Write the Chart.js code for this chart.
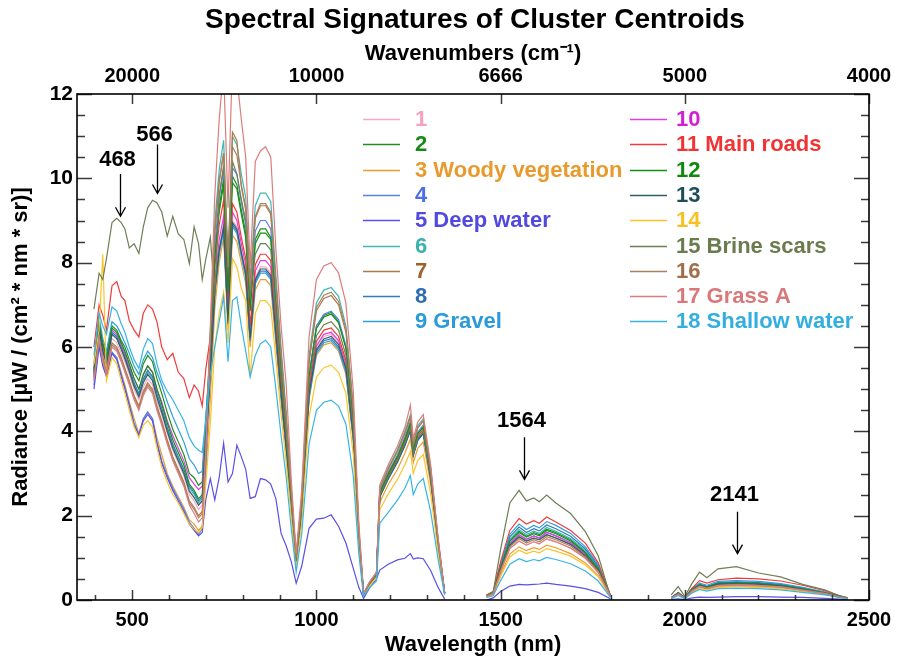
<!DOCTYPE html>
<html>
<head>
<meta charset="utf-8">
<title>Spectral Signatures of Cluster Centroids</title>
<script src="https://cdn.jsdelivr.net/npm/chart.js@4.4.1/dist/chart.umd.min.js"></script>
<style>
  html, body { margin: 0; padding: 0; background: #ffffff; }
  canvas { display: block; }
</style>
</head>
<body>
<canvas id="chart" width="900" height="661"></canvas>
<script>
// Band centre wavelengths (nm). 1400 and 1880 are the atmospheric water gaps (no data).
const wavelengths = [396,410,420,430,445,458,470,480,492,505,518,530,542,555,567,580,595,610,625,640,655,668,680,690,700,
  712,724,736,748,760,772,784,796,808,820,834,848,862,876,890,904,918,
  932,945,960,980,1000,1020,1040,1060,1080,1100,1115,1128,
  1145,1163,1172,1195,1220,1240,1255,1263,1275,1290,1310,1330,1348,
  1400,
  1462,1480,1500,1525,1550,1570,1590,1605,1625,1650,1690,1730,1765,1798,
  1880,
  1963,1982,2000,2020,2040,2060,2090,2140,2200,2260,2320,2380,2420,2442];

// Mean radiance of each cluster, µW / (cm² nm sr)
const c1 = [5.3,6.3,5.8,5.5,6.2,6.1,5.85,5.65,5.35,5.0,4.75,5.05,5.25,5.1,4.7,4.4,3.95,3.55,3.25,2.95,2.5,2.35,2.15,2.25,3.6,
  5.3,7.35,8.35,8.95,6.6,9.0,8.85,8.3,7.8,6.25,7.65,7.9,7.9,7.75,6.3,4.9,3.65,
  2.2,0.88,2.1,4.9,6.0,6.25,6.3,6.1,5.55,3.9,1.45,0.13,
  0.4,0.6,2.5,2.9,3.3,3.7,4.1,3.5,3.85,4.0,2.9,1.35,0.15,
  null,
  0.09,0.15,0.67,1.22,1.4,1.3,1.38,1.33,1.45,1.38,1.23,0.99,0.65,0.09,
  null,
  0.04,0.14,0.04,0.22,0.32,0.27,0.34,0.36,0.34,0.31,0.23,0.15,0.07,0.04];
const c2 = [5.5,6.6,6.1,5.8,6.5,6.4,6.15,6.0,5.7,5.4,5.2,5.6,5.8,5.65,5.25,4.9,4.45,4.05,3.75,3.45,3.0,2.9,2.72,2.8,4.3,
  6.0,8.2,9.3,10.0,7.4,10.05,9.85,9.25,8.7,6.95,8.55,8.8,8.8,8.6,7.0,5.45,4.05,
  2.4,0.95,2.25,5.3,6.5,6.75,6.82,6.6,6.0,4.2,1.55,0.14,
  0.41,0.62,2.55,3.0,3.4,3.8,4.2,3.57,3.95,4.1,3.0,1.4,0.16,
  null,
  0.1,0.17,0.77,1.41,1.63,1.51,1.6,1.55,1.68,1.6,1.43,1.14,0.76,0.1,
  null,
  0.05,0.16,0.05,0.24,0.35,0.3,0.38,0.4,0.38,0.34,0.26,0.17,0.08,0.04];
const c3 = [5.2,6.2,5.6,5.3,5.85,5.75,5.4,5.1,4.7,4.3,3.95,4.3,4.45,4.3,3.85,3.45,3.0,2.7,2.45,2.2,1.9,1.8,1.65,1.75,3.0,
  4.8,6.9,8.0,8.6,6.4,8.65,8.5,8.0,7.5,6.0,7.35,7.6,7.6,7.45,6.05,4.7,3.5,
  2.15,0.85,2.0,4.75,5.8,6.05,6.1,5.9,5.35,3.8,1.4,0.12,
  0.38,0.56,2.32,2.74,3.1,3.48,3.82,3.26,3.6,3.75,2.74,1.28,0.15,
  null,
  0.08,0.13,0.6,1.09,1.26,1.17,1.24,1.2,1.3,1.24,1.1,0.88,0.58,0.08,
  null,
  0.04,0.13,0.04,0.2,0.29,0.25,0.31,0.33,0.31,0.28,0.21,0.14,0.07,0.03];
const c4 = [5.1,6.1,5.6,5.37,5.88,5.75,5.35,5.05,4.65,4.2,3.92,4.3,4.46,4.3,3.75,3.3,2.95,2.65,2.4,2.15,1.85,1.7,1.55,1.7,3.2,
  5.8,8.4,9.55,10.2,7.55,10.25,10.1,9.45,8.9,7.1,8.75,9.0,9.0,8.8,7.2,5.6,4.15,
  2.4,0.95,2.25,5.35,6.5,6.78,6.85,6.65,6.03,4.25,1.57,0.14,
  0.42,0.62,2.57,3.03,3.44,3.86,4.23,3.61,3.98,4.15,3.03,1.41,0.17,
  null,
  0.1,0.16,0.74,1.34,1.55,1.44,1.52,1.47,1.6,1.52,1.36,1.09,0.72,0.1,
  null,
  0.04,0.14,0.04,0.22,0.32,0.27,0.34,0.36,0.34,0.31,0.23,0.15,0.07,0.04];
const c5 = [5.0,6.0,5.55,5.3,5.85,5.7,5.3,5.0,4.6,4.15,3.9,4.25,4.4,4.25,3.7,3.25,2.9,2.6,2.35,2.1,1.8,1.65,1.52,1.6,2.4,
  2.88,2.37,2.9,3.72,2.8,3.0,3.67,3.4,3.1,2.41,2.45,2.88,2.85,2.75,2.4,1.58,1.28,
  0.9,0.4,0.8,1.7,1.92,1.94,2.02,1.75,1.35,0.75,0.3,0.04,
  0.3,0.5,0.71,0.85,0.95,0.99,1.1,0.97,1.0,0.98,0.7,0.3,0.02,
  null,
  0.0,0.05,0.2,0.33,0.37,0.36,0.37,0.38,0.4,0.37,0.33,0.27,0.18,0.03,
  null,
  0.01,0.03,0.01,0.05,0.07,0.06,0.07,0.08,0.08,0.07,0.06,0.04,0.02,0.01];
const c6 = [5.4,6.45,5.9,5.6,6.3,6.2,5.95,5.75,5.45,5.1,4.85,5.2,5.4,5.25,4.85,4.5,4.05,3.65,3.35,3.05,2.65,2.5,2.3,2.4,4.0,
  6.4,8.95,10.2,10.9,8.1,11.0,10.8,10.1,9.55,7.6,9.35,9.65,9.65,9.45,7.7,6.0,4.45,
  2.6,1.04,2.45,5.8,7.05,7.35,7.41,7.2,6.5,4.6,1.7,0.15,
  0.43,0.65,2.67,3.14,3.57,4.0,4.39,3.74,4.13,4.3,3.14,1.46,0.17,
  null,
  0.1,0.17,0.79,1.44,1.67,1.55,1.63,1.58,1.72,1.63,1.46,1.17,0.77,0.1,
  null,
  0.05,0.17,0.05,0.25,0.37,0.32,0.4,0.42,0.4,0.36,0.27,0.18,0.08,0.04];
const c7 = [5.3,6.3,5.75,5.45,6.1,6.0,5.75,5.5,5.2,4.85,4.6,4.95,5.15,5.0,4.6,4.25,3.8,3.4,3.1,2.8,2.35,2.2,2.0,2.1,3.7,
  6.2,8.7,9.9,10.6,7.85,11.1,10.9,9.8,9.25,7.4,9.05,9.35,9.35,9.15,7.5,5.8,4.3,
  2.53,1.01,2.38,5.63,6.86,7.15,7.22,7.0,6.35,4.48,1.66,0.14,
  0.43,0.64,2.64,3.1,3.53,3.95,4.34,3.7,4.08,4.25,3.1,1.45,0.17,
  null,
  0.09,0.16,0.71,1.3,1.5,1.4,1.47,1.43,1.55,1.47,1.32,1.05,0.7,0.09,
  null,
  0.05,0.15,0.05,0.23,0.33,0.29,0.36,0.38,0.36,0.32,0.25,0.16,0.08,0.04];
const c8 = [5.4,6.45,5.95,5.65,6.35,6.25,6.0,5.8,5.5,5.15,4.9,5.25,5.45,5.3,4.9,4.55,4.1,3.7,3.4,3.1,2.7,2.55,2.35,2.45,3.8,
  5.4,7.25,8.25,8.8,6.55,8.9,8.75,8.2,7.7,6.15,7.55,7.8,7.8,7.65,6.25,4.85,3.6,
  2.17,0.87,2.05,4.84,5.9,6.15,6.2,6.0,5.45,3.85,1.43,0.12,
  0.4,0.59,2.45,2.88,3.28,3.67,4.03,3.44,3.79,3.95,2.88,1.34,0.16,
  null,
  0.11,0.18,0.82,1.5,1.73,1.6,1.69,1.64,1.78,1.69,1.51,1.21,0.8,0.11,
  null,
  0.05,0.17,0.05,0.26,0.38,0.32,0.41,0.43,0.41,0.37,0.28,0.18,0.09,0.04];
const c9 = [5.6,6.7,6.2,5.9,6.6,6.5,6.3,6.1,5.85,5.55,5.35,5.7,5.9,5.75,5.4,5.1,4.7,4.35,4.05,3.75,3.35,3.2,3.0,3.05,4.4,
  5.8,7.3,8.2,8.75,6.55,8.85,8.7,8.15,7.65,6.15,7.5,7.75,7.75,7.6,6.2,4.8,3.55,
  2.15,0.86,2.03,4.8,5.85,6.1,6.15,5.95,5.4,3.8,1.41,0.12,
  0.4,0.6,2.44,2.87,3.27,3.66,4.02,3.43,3.78,3.95,2.87,1.33,0.16,
  null,
  0.11,0.19,0.86,1.56,1.8,1.67,1.77,1.71,1.86,1.77,1.58,1.26,0.84,0.11,
  null,
  0.06,0.18,0.06,0.28,0.4,0.35,0.44,0.46,0.44,0.39,0.3,0.19,0.09,0.05];
const c10 = [5.45,6.5,6.0,5.7,6.4,6.3,6.05,5.85,5.55,5.25,5.0,5.35,5.55,5.4,5.0,4.7,4.25,3.9,3.6,3.3,2.9,2.75,2.62,2.7,4.1,
  5.6,7.5,8.55,9.1,6.75,9.2,9.0,8.45,7.95,6.35,7.8,8.05,8.05,7.9,6.45,5.0,3.7,
  2.22,0.89,2.1,4.95,6.03,6.3,6.35,6.15,5.6,3.95,1.46,0.13,
  0.4,0.6,2.48,2.92,3.32,3.72,4.08,3.48,3.84,4.0,2.92,1.36,0.16,
  null,
  0.1,0.16,0.74,1.34,1.55,1.44,1.52,1.47,1.6,1.52,1.36,1.09,0.72,0.1,
  null,
  0.05,0.16,0.05,0.24,0.35,0.3,0.38,0.4,0.38,0.34,0.26,0.17,0.08,0.04];
const c11 = [6.0,7.0,6.75,6.4,7.45,7.55,7.2,7.1,6.62,6.4,6.24,6.8,7.0,6.9,6.6,6.0,5.7,5.85,5.4,5.25,4.8,5.1,4.95,4.6,5.5,
  6.24,7.9,8.9,9.48,7.0,9.4,9.2,8.6,8.1,6.5,7.95,8.2,8.2,8.05,6.6,5.1,3.8,
  2.26,0.9,2.13,5.03,6.13,6.4,6.45,6.25,5.68,4.0,1.48,0.13,
  0.41,0.61,2.51,2.96,3.36,3.77,4.13,3.52,3.89,4.05,2.96,1.38,0.16,
  null,
  0.12,0.2,0.91,1.65,1.93,1.8,1.88,1.82,1.97,1.85,1.65,1.35,0.88,0.12,
  null,
  0.05,0.18,0.05,0.28,0.46,0.4,0.48,0.52,0.5,0.45,0.35,0.22,0.1,0.05];
const c12 = [5.45,6.55,6.05,5.75,6.45,6.35,6.1,5.9,5.6,5.25,5.0,5.35,5.55,5.4,5.0,4.65,4.2,3.8,3.5,3.2,2.75,2.6,2.4,2.5,4.0,
  5.9,8.1,9.2,9.85,7.3,9.9,9.75,9.15,8.6,6.85,8.45,8.7,8.7,8.55,6.95,5.4,4.0,
  2.37,0.95,2.24,5.29,6.44,6.71,6.78,6.58,5.97,4.2,1.56,0.14,
  0.41,0.62,2.54,2.99,3.4,3.81,4.18,3.57,3.94,4.1,2.99,1.39,0.16,
  null,
  0.1,0.17,0.76,1.39,1.6,1.49,1.57,1.52,1.65,1.57,1.4,1.12,0.74,0.1,
  null,
  0.05,0.16,0.05,0.25,0.36,0.31,0.39,0.41,0.39,0.35,0.27,0.17,0.08,0.04];
const c13 = [5.35,6.4,5.9,5.6,6.3,6.2,5.95,5.72,5.42,5.07,4.82,5.15,5.35,5.2,4.8,4.45,4.0,3.6,3.3,3.0,2.58,2.43,2.25,2.35,3.7,
  5.35,7.3,8.3,8.85,6.6,8.95,8.8,8.25,7.75,6.2,7.6,7.85,7.85,7.7,6.3,4.9,3.6,
  2.19,0.88,2.06,4.88,5.94,6.19,6.25,6.06,5.5,3.88,1.44,0.13,
  0.4,0.59,2.45,2.88,3.28,3.67,4.03,3.44,3.79,3.95,2.88,1.34,0.16,
  null,
  0.09,0.16,0.71,1.3,1.5,1.4,1.47,1.43,1.55,1.47,1.32,1.05,0.7,0.09,
  null,
  0.05,0.16,0.05,0.23,0.34,0.29,0.37,0.39,0.37,0.33,0.25,0.16,0.08,0.04];
const c14 = [5.6,6.4,8.2,5.2,5.75,5.6,5.2,4.9,4.5,4.1,3.85,4.15,4.25,4.1,3.6,3.15,2.8,2.5,2.3,2.05,1.8,1.68,1.6,1.72,2.8,
  4.2,6.0,6.8,7.3,6.1,8.1,7.9,7.4,7.1,5.3,6.8,7.1,7.1,6.95,5.7,4.4,3.25,
  1.95,0.78,1.84,4.34,5.29,5.51,5.57,5.4,4.9,3.45,1.28,0.11,
  0.35,0.52,2.14,2.52,2.86,3.21,3.52,3.0,3.31,3.45,2.52,1.17,0.14,
  null,
  0.07,0.12,0.56,1.02,1.18,1.1,1.16,1.12,1.22,1.16,1.04,0.83,0.55,0.07,
  null,
  0.04,0.13,0.04,0.19,0.28,0.24,0.3,0.32,0.3,0.27,0.21,0.13,0.06,0.03];
const c15 = [6.9,7.75,7.6,8.1,8.95,9.05,8.95,8.8,8.35,8.45,8.22,8.85,9.3,9.48,9.42,9.2,8.63,9.1,8.68,8.55,7.98,8.85,8.45,7.6,8.1,
  8.6,7.2,9.6,10.3,7.9,10.4,10.1,9.5,9.0,7.2,8.2,8.45,8.45,8.3,6.8,5.3,3.95,
  2.3,0.92,2.18,5.15,6.27,6.53,6.6,6.4,5.8,4.1,1.52,0.13,
  0.4,0.6,2.48,2.92,3.32,3.72,4.08,3.48,3.84,4.0,2.92,1.36,0.16,
  null,
  0.12,0.2,1.2,2.3,2.6,2.35,2.42,2.33,2.49,2.3,2.05,1.62,1.05,0.08,
  null,
  0.12,0.32,0.08,0.4,0.66,0.53,0.74,0.79,0.64,0.55,0.37,0.24,0.1,0.06];
const c16 = [5.25,6.25,5.7,5.4,6.05,5.95,5.7,5.45,5.15,4.8,4.55,4.9,5.1,4.95,4.55,4.2,3.75,3.35,3.05,2.75,2.3,2.15,1.95,2.05,3.6,
  6.2,8.75,9.95,10.6,7.9,10.75,10.55,9.85,9.3,7.45,9.1,9.4,9.4,9.2,7.5,5.85,4.3,
  2.56,1.02,2.41,5.69,6.94,7.23,7.3,7.08,6.42,4.53,1.68,0.15,
  0.43,0.64,2.64,3.1,3.53,3.95,4.34,3.7,4.08,4.25,3.1,1.45,0.17,
  null,
  0.09,0.15,0.69,1.26,1.46,1.35,1.43,1.38,1.5,1.43,1.28,1.02,0.68,0.09,
  null,
  0.04,0.15,0.04,0.22,0.33,0.28,0.35,0.37,0.35,0.31,0.24,0.16,0.07,0.04];
const c17 = [5.2,6.2,5.65,5.35,6.0,5.9,5.65,5.4,5.1,4.75,4.5,4.85,5.05,4.9,4.5,4.15,3.7,3.3,3.0,2.7,2.25,2.05,1.85,1.95,3.6,
  6.5,9.6,11.4,12.6,9.3,12.8,12.4,11.4,10.5,7.9,10.4,10.65,10.75,10.5,8.3,6.5,5.1,
  2.8,1.1,2.6,6.24,7.6,7.92,8.0,7.76,7.04,4.96,1.84,0.16,
  0.44,0.66,2.73,3.21,3.65,4.09,4.62,3.83,4.22,4.4,3.21,1.5,0.18,
  null,
  0.09,0.15,0.67,1.22,1.4,1.3,1.38,1.33,1.45,1.38,1.23,0.99,0.65,0.09,
  null,
  0.04,0.14,0.04,0.22,0.32,0.27,0.34,0.36,0.34,0.31,0.23,0.15,0.07,0.04];
const c18 = [5.8,6.8,6.5,6.3,6.95,6.85,6.55,6.35,6.0,5.7,5.49,5.95,6.2,6.08,5.6,5.21,4.95,4.75,4.5,4.25,3.85,3.65,3.55,3.5,4.3,
  5.37,6.0,6.6,7.19,5.65,7.1,7.19,6.5,5.9,5.29,5.8,6.08,6.16,6.0,5.0,3.9,2.9,
  1.66,0.66,1.56,3.7,4.5,4.69,4.74,4.6,4.17,2.94,1.09,0.09,
  0.3,0.45,1.82,2.08,2.37,2.65,2.95,2.5,2.75,2.88,2.1,0.98,0.12,
  null,
  0.06,0.1,0.46,0.85,0.98,0.91,0.96,0.93,1.01,0.96,0.86,0.69,0.45,0.06,
  null,
  0.03,0.11,0.03,0.17,0.25,0.21,0.27,0.28,0.27,0.24,0.18,0.12,0.06,0.03];

const seriesNames = ['1', '2', '3 Woody vegetation', '4', '5 Deep water', '6', '7', '8', '9 Gravel',
  '10', '11 Main roads', '12', '13', '14', '15 Brine scars', '16', '17 Grass A', '18 Shallow water'];

const xTickValues = [500, 1000, 1500, 2000, 2500];
const topTickLabels = ['20000', '10000', '6666', '5000', '4000'];
const yTickValues = [0, 2, 4, 6, 8, 10, 12];

// Marked peaks of the brine-scar spectrum: wavelength, arrow tip, arrow tail and label height (radiance units)
const peakWavelengths = [468, 566, 1564, 2141];
const peakArrowTips = [9.1, 9.64, 2.86, 1.1];
const peakArrowTails = [10.1, 10.8, 3.86, 2.09];
const peakLabelLevels = [10.44, 11.02, 4.24, 2.49];

// ---- presentation ----
const FONT = '"Liberation Sans", Arial, Helvetica, sans-serif';
const lineColors = ['#F7A8C4', '#1E8F1E', '#EB9E30', '#5580F0', '#5A50E6', '#40B8B4', '#B07A48', '#3478BE', '#2F9EDB',
  '#E040E0', '#F23A3A', '#139113', '#2F5F66', '#FBC52A', '#6E7F55', '#A8805E', '#DA7E7C', '#38B4E4'];
const textColors = ['#F5A3BD', '#198A19', '#E99A2C', '#4A6EE8', '#5249DF', '#3BB2AE', '#A0602C', '#2E6DB0', '#2B9AD8',
  '#D41ED4', '#F03434', '#0F8A0F', '#1E4E57', '#F8C020', '#6A7B4E', '#A06E4A', '#D8787A', '#33AEE0'];

const series = [c1, c2, c3, c4, c5, c6, c7, c8, c9, c10, c11, c12, c13, c14, c15, c16, c17, c18];

const datasets = series.map((vals, i) => ({
  label: seriesNames[i],
  data: vals.map((v, j) => ({ x: wavelengths[j], y: v })),
  borderColor: lineColors[i],
  backgroundColor: lineColors[i],
  borderWidth: 1.2,
  pointRadius: 0,
  tension: 0,
  fill: false,
  spanGaps: false,
  order: series.length - i
}));

Chart.defaults.font.family = FONT;
Chart.defaults.color = '#000';

const fixedTicks = (values) => (scale) => { scale.ticks = values.map(v => ({ value: v })); };

// Frame, inward tick marks, title, legend and peak arrows
const decorations = {
  id: 'decorations',
  afterDraw(chart) {
    const { ctx, chartArea: { left, right, top, bottom }, scales: { x, y } } = chart;
    ctx.save();

    // minor / major tick marks, drawn inward like the frame of a classic plot
    ctx.strokeStyle = '#3a3a3a';
    ctx.lineWidth = 1.5;
    ctx.beginPath();
    for (let v = 0; v <= 12.0001; v += 0.5) {
      const py = Math.round(y.getPixelForValue(v)) + 0.5;
      const len = (Math.abs(v % 2) < 1e-6) ? 15 : 8;
      ctx.moveTo(left, py); ctx.lineTo(left + len, py);
      ctx.moveTo(right, py); ctx.lineTo(right - len, py);
    }
    for (let v = 400; v <= 2500; v += 100) {
      const px = Math.round(x.getPixelForValue(v)) + 0.5;
      const len = xTickValues.includes(v) ? 10 : 5;
      ctx.moveTo(px, bottom); ctx.lineTo(px, bottom - len);
    }
    xTickValues.forEach(v => {
      const px = Math.round(x.getPixelForValue(v)) + 0.5;
      ctx.moveTo(px, top); ctx.lineTo(px, top + 10);
    });
    ctx.stroke();

    // frame
    ctx.strokeStyle = '#000';
    ctx.lineWidth = 1.6;
    ctx.strokeRect(left, top, right - left, bottom - top);

    // main title
    ctx.fillStyle = '#000';
    ctx.font = 'bold 28px ' + FONT;
    ctx.textAlign = 'center';
    ctx.textBaseline = 'middle';
    ctx.fillText('Spectral Signatures of Cluster Centroids', (left + right) / 2 + 2, 20);

    // legend, two columns of nine
    ctx.font = 'bold 22px ' + FONT;
    ctx.textAlign = 'left';
    const colX = [left + 286, left + 553];
    const rowH = 25.3;
    seriesNames.forEach((name, i) => {
      const col = i < 9 ? 0 : 1;
      const row = i % 9;
      const ly = top + 25 + row * rowH;
      const lx = colX[col];
      ctx.strokeStyle = lineColors[i];
      ctx.lineWidth = 1.5;
      ctx.beginPath();
      ctx.moveTo(lx, Math.round(ly) + 0.5);
      ctx.lineTo(lx + 37, Math.round(ly) + 0.5);
      ctx.stroke();
      ctx.fillStyle = textColors[i];
      ctx.fillText(name, lx + (col === 0 ? 52 : 46), ly + 1);
    });

    // peak arrows
    ctx.strokeStyle = '#000';
    ctx.fillStyle = '#000';
    ctx.lineWidth = 1.3;
    ctx.textAlign = 'center';
    ctx.font = 'bold 22px ' + FONT;
    peakWavelengths.forEach((wl, i) => {
      const px = Math.round(x.getPixelForValue(wl)) + 0.5;
      const tipY = y.getPixelForValue(peakArrowTips[i]);
      const tailY = y.getPixelForValue(peakArrowTails[i]);
      ctx.beginPath();
      ctx.moveTo(px, tailY); ctx.lineTo(px, tipY);
      ctx.moveTo(px - 5, tipY - 9); ctx.lineTo(px, tipY); ctx.lineTo(px + 5, tipY - 9);
      ctx.stroke();
      ctx.fillText(String(wl), px - 3, y.getPixelForValue(peakLabelLevels[i]));
    });

    ctx.restore();
  }
};

new Chart(document.getElementById('chart'), {
  type: 'line',
  data: { datasets },
  options: {
    responsive: false,
    animation: false,
    devicePixelRatio: 1,
    layout: { padding: 0 },
    plugins: { legend: { display: false }, tooltip: { enabled: false }, title: { display: false } },
    scales: {
      x: {
        type: 'linear', position: 'bottom', min: 350, max: 2500,
        afterBuildTicks: fixedTicks(xTickValues),
        afterFit: (s) => { s.height = 61; },
        grid: { display: false, drawTicks: false, tickLength: 0 },
        border: { display: false },
        ticks: { font: { size: 20, weight: 'bold' }, color: '#000', padding: 8, maxRotation: 0, minRotation: 0, autoSkip: false,
                 callback: (v) => String(v) },
        title: { display: true, text: 'Wavelength (nm)', font: { size: 22, weight: 'bold' }, color: '#000',
                 padding: { top: 0, bottom: 3 } }
      },
      x2: {
        type: 'linear', position: 'top', min: 350, max: 2500,
        afterBuildTicks: fixedTicks(xTickValues),
        afterFit: (s) => { s.height = 94; },
        grid: { display: false, drawTicks: false, tickLength: 0 },
        border: { display: false },
        ticks: { font: { size: 20, weight: 'bold' }, color: '#000', padding: 6, maxRotation: 0, minRotation: 0, autoSkip: false,
                 callback: (v) => topTickLabels[xTickValues.indexOf(v)] },
        title: { display: true, text: 'Wavenumbers (cm\u207B\u00B9)', font: { size: 22, weight: 'bold' }, color: '#000',
                 padding: { top: 41, bottom: 0 } }
      },
      y: {
        type: 'linear', position: 'left', min: 0, max: 12,
        afterBuildTicks: fixedTicks(yTickValues),
        afterFit: (s) => { s.width = 77; },
        grid: { display: false, drawTicks: false, tickLength: 0 },
        border: { display: false },
        ticks: { font: { size: 21, weight: 'bold' }, color: '#000', padding: 4, callback: (v) => String(v) },
        title: { display: true, text: 'Radiance [\u00B5W / (cm\u00B2 * nm * sr)]', font: { size: 22, weight: 'bold' }, color: '#000',
                 padding: { top: 8, bottom: 0 } }
      },
      y2: {
        type: 'linear', position: 'right', min: 0, max: 12,
        afterFit: (s) => { s.width = 31; },
        grid: { display: false, drawTicks: false },
        border: { display: false },
        ticks: { display: false }
      }
    }
  },
  plugins: [decorations]
});
</script>
</body>
</html>
